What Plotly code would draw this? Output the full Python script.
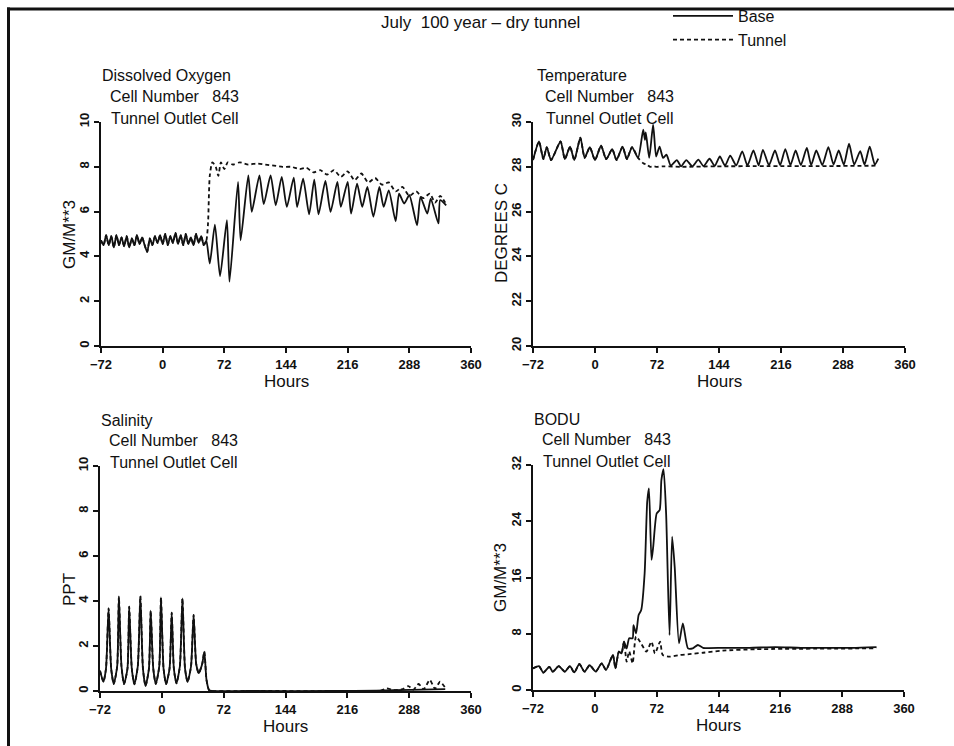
import plotly.graph_objects as go

W, H = 954, 746
FONT = "Liberation Sans"
INK = "#111111"

x_tickvals = [-72, 0, 72, 144, 216, 288, 360]
x_ticktext = ["\u221272", "0", "72", "144", "216", "288", "360"]

# ---------------- Dissolved oxygen ----------------
do_pre_hours = [-72, -69, -66, -63, -60, -57, -54, -51, -48, -45, -42, -39, -36, -33,
                -30, -27, -24, -21, -18, -15, -12, -9, -6, -3, 0, 3, 6, 9, 12, 15,
                18, 21, 24, 27, 30, 33, 36, 39, 42, 45, 48, 51]
do_pre_values = [4.72, 4.5, 4.95, 4.5, 4.9, 4.4, 4.95, 4.5, 4.85, 4.45, 4.9, 4.4, 4.8, 4.5,
                 4.95, 4.55, 4.85, 4.5, 4.2, 4.8, 4.5, 4.9, 4.6, 4.95, 4.55, 5.0, 4.5, 4.9,
                 4.6, 5.05, 4.55, 4.95, 4.5, 5.0, 4.55, 4.85, 4.5, 5.0, 4.6, 4.9, 4.5, 4.7]
do_base_hours = [55, 61, 67, 75, 78, 88, 91, 100, 104, 113, 118, 126, 132, 139, 145, 153,
                 157, 164, 171, 177, 182, 190, 196, 204, 208, 216, 220, 227, 233, 239, 246,
                 253, 258, 264, 272, 276, 282, 288, 297, 301, 309, 313, 322, 324, 331]
do_base_values = [3.68, 5.42, 3.12, 5.62, 2.87, 7.33, 4.72, 7.62, 5.99, 7.62, 6.33, 7.62,
                  6.28, 7.55, 6.21, 7.52, 6.2, 7.47, 5.88, 7.43, 5.88, 7.37, 5.99, 7.33,
                  6.21, 7.33, 5.91, 7.25, 6.21, 7.1, 5.77, 7.1, 6.21, 6.95, 5.57, 6.8,
                  6.36, 6.73, 5.39, 6.66, 5.91, 6.58, 5.47, 6.51, 6.28]
do_tunnel_hours = [53, 55, 58, 62, 65, 68, 72, 76, 82, 90, 100, 110, 120, 130, 140, 150,
                   160, 168, 176, 184, 192, 200, 208, 216, 224, 232, 240, 248, 256, 264,
                   272, 280, 288, 296, 304, 312, 318, 324, 330]
do_tunnel_values = [5.5, 7.6, 8.2, 8.0, 7.6, 8.2, 7.9, 8.2, 8.1, 8.2, 8.1, 8.15, 8.1, 8.05,
                    8.0, 8.0, 7.9, 7.95, 7.75, 7.85, 7.65, 7.85, 7.55, 7.8, 7.4, 7.7, 7.3,
                    7.5, 7.2, 7.3, 6.9, 7.1, 6.7, 6.9, 6.6, 6.8, 6.4, 6.7, 6.4]

# ---------------- Temperature ----------------
temp_pre_hours = [-72, -65, -60, -56, -51, -40, -35, -29, -24, -17, -12, -6, 0, 7, 13,
                  20, 25, 32, 37, 43, 50]
temp_pre_values = [28.3, 29.13, 28.34, 28.88, 28.3, 29.13, 28.34, 28.9, 28.3, 29.3, 28.4,
                   28.88, 28.3, 28.94, 28.34, 28.79, 28.3, 28.9, 28.34, 28.88, 28.4]
temp_base_hours = [56, 58, 59, 63, 67.5, 71, 75, 79, 83, 88, 95, 100, 106, 113, 120, 126,
                   133, 139, 145, 151, 157, 164, 171, 177, 184, 190, 195, 202, 209, 215,
                   221, 227, 233, 239, 246, 251, 257, 264, 271, 277, 283, 289, 295, 301,
                   308, 313, 319, 325, 329]
temp_base_values = [29.66, 29.2, 29.54, 28.4, 29.88, 28.46, 28.9, 28.4, 28.54, 28.05, 28.3,
                    28.02, 28.3, 28.02, 28.32, 28.03, 28.36, 28.04, 28.46, 28.05, 28.5,
                    28.06, 28.69, 28.06, 28.73, 28.07, 28.76, 28.07, 28.73, 28.08, 28.79,
                    28.08, 28.73, 28.08, 28.84, 28.08, 28.73, 28.08, 28.88, 28.1, 28.73,
                    28.1, 29.03, 28.1, 28.7, 28.1, 28.9, 28.1, 28.36]
temp_tunnel_hours = [56, 60, 64, 68, 72, 80, 100, 140, 200, 260, 329]
temp_tunnel_values = [28.16, 28.1, 28.0, 28.02, 28.0, 28.02, 28.0, 28.02, 28.03, 28.03, 28.05]

# ---------------- Salinity ----------------
sal_pre_hours = [-72, -68, -65, -62, -59, -56, -52, -50, -47, -44, -40, -38, -35, -32,
                 -28, -25, -22, -19, -15, -13, -10, -7, -3, -1, 2, 5, 9, 11.5, 14, 17,
                 21, 24, 27, 30, 34, 37, 40, 43, 47, 49.5, 52, 55, 58]
sal_pre_values = [0.9, 0.41, 1.0, 3.67, 1.0, 0.31, 1.1, 4.19, 1.1, 0.31, 1.0, 3.75, 1.0,
                  0.3, 1.1, 4.22, 1.0, 0.22, 1.0, 3.57, 1.0, 0.31, 1.1, 4.16, 1.0, 0.31,
                  1.0, 3.48, 1.0, 0.34, 1.1, 4.12, 1.0, 0.4, 1.1, 3.38, 1.2, 0.79, 1.2,
                  1.75, 0.5, 0.04, 0.0]
sal_base_hours = [100, 200, 250, 290, 330]
sal_base_values = [0.0, 0.0, 0.02, 0.05, 0.08]
sal_tunnel_hours = [100, 200, 255, 262, 270, 280, 287, 293, 299, 305, 312, 318, 324, 330]
sal_tunnel_values = [0.0, 0.0, 0.02, 0.12, 0.04, 0.08, 0.22, 0.06, 0.31, 0.08, 0.49, 0.1,
                     0.41, 0.15]

# ---------------- BODU ----------------
bod_pre_hours = [-72, -65, -60, -53, -49, -42, -35, -29, -24, -18, -12, -6, 1, 8, 13, 21,
                 24, 28, 31, 34]
bod_pre_values = [3.08, 3.4, 2.46, 3.3, 2.6, 3.4, 2.6, 3.4, 2.5, 3.7, 2.6, 3.55, 2.6, 3.8,
                  2.84, 4.98, 3.08, 5.45, 5.2, 6.87]
bod_base_hours = [37, 40, 44, 45, 48, 51, 54, 58, 61, 63, 66, 68, 72, 75.5, 77.5, 80, 83,
                  87, 90, 93, 98, 102.5, 108.5, 114, 120, 126, 150, 180, 210, 240, 270,
                  300, 328]
bod_base_values = [5.9, 7.35, 7.35, 9.24, 8.06, 10.66, 11.37, 16.6, 26.8, 28.67, 18.5,
                   20.4, 25.1, 25.6, 29.86, 31.4, 25.1, 7.8, 21.8, 17.5, 6.64, 9.48, 5.92,
                   5.92, 6.4, 6.0, 6.0, 6.0, 6.1, 6.0, 6.0, 6.0, 6.1]
bod_tunnel_hours = [37, 40, 44, 48, 54, 60, 66, 70, 76, 79, 87, 99, 110, 126, 149, 188, 328]
bod_tunnel_values = [4.03, 5.5, 3.8, 7.6, 6.6, 5.45, 6.87, 5.2, 6.87, 4.98, 4.74, 4.98,
                     5.1, 5.3, 5.6, 5.8, 5.92]

# ---------------- layout geometry (pixels) ----------------
panels = [
    dict(x0=101, x1=471, top=122, bottom=346, yrange=[0, 10], yticks=[0, 2, 4, 6, 8, 10],
         title=["Dissolved Oxygen", "Cell Number   843", "Tunnel Outlet Cell"],
         ytitle="GM/M**3", ytitle_x=69, ytitle_y=235,
         pre=(do_pre_hours, do_pre_values), base=(do_base_hours, do_base_values),
         tun=(do_tunnel_hours, do_tunnel_values)),
    dict(x0=533, x1=905, top=122, bottom=346, yrange=[20, 30],
         yticks=[20, 22, 24, 26, 28, 30],
         title=["Temperature", "Cell Number   843", "Tunnel Outlet Cell"],
         ytitle="DEGREES C", ytitle_x=501, ytitle_y=233,
         pre=(temp_pre_hours, temp_pre_values), base=(temp_base_hours, temp_base_values),
         tun=(temp_tunnel_hours, temp_tunnel_values)),
    dict(x0=100, x1=471, top=466, bottom=691, yrange=[0, 10], yticks=[0, 2, 4, 6, 8, 10],
         title=["Salinity", "Cell Number   843", "Tunnel Outlet Cell"],
         ytitle="PPT", ytitle_x=69, ytitle_y=590,
         pre=(sal_pre_hours, sal_pre_values), base=(sal_base_hours, sal_base_values),
         tun=(sal_tunnel_hours, sal_tunnel_values)),
    dict(x0=533, x1=904, top=465, bottom=690, yrange=[0, 32], yticks=[0, 8, 16, 24, 32],
         title=["BODU", "Cell Number   843", "Tunnel Outlet Cell"],
         ytitle="GM/M**3", ytitle_x=500, ytitle_y=578,
         pre=(bod_pre_hours, bod_pre_values), base=(bod_base_hours, bod_base_values),
         tun=(bod_tunnel_hours, bod_tunnel_values)),
]

fig = go.Figure()
annotations = []
layout_axes = {}

for i, p in enumerate(panels):
    n = i + 1
    xa = "x" if n == 1 else f"x{n}"
    ya = "y" if n == 1 else f"y{n}"
    pre_h, pre_v = p["pre"]
    bh, bv = p["base"]
    th, tv = p["tun"]
    fig.add_trace(go.Scatter(
        x=pre_h + th, y=pre_v + tv, mode="lines", name="Tunnel",
        line=dict(color=INK, width=1.8, dash="4px,3px", shape="spline", smoothing=0.6),
        xaxis=xa, yaxis=ya, showlegend=(n == 1), legendrank=2, hoverinfo="skip"))
    fig.add_trace(go.Scatter(
        x=pre_h + bh, y=pre_v + bv, mode="lines", name="Base",
        line=dict(color=INK, width=1.8, shape="spline", smoothing=0.6),
        xaxis=xa, yaxis=ya, showlegend=(n == 1), legendrank=1, hoverinfo="skip"))

    xkey = "xaxis" if n == 1 else f"xaxis{n}"
    ykey = "yaxis" if n == 1 else f"yaxis{n}"
    layout_axes[xkey] = dict(
        domain=[p["x0"] / W, p["x1"] / W], anchor=ya, automargin=False,
        range=[-72, 360], tickvals=x_tickvals, ticktext=x_ticktext,
        showline=True, linecolor=INK, linewidth=2, ticks="outside", ticklen=5,
        tickwidth=1.5, tickcolor=INK, showgrid=False, zeroline=False,
        tickfont=dict(family=FONT, size=13, color=INK, weight="bold"),
        fixedrange=True)
    layout_axes[ykey] = dict(
        domain=[1 - p["bottom"] / H, 1 - p["top"] / H], anchor=xa, automargin=False,
        range=p["yrange"], tickvals=p["yticks"],
        showline=True, linecolor=INK, linewidth=2, ticks="outside", ticklen=5,
        tickwidth=1.5, tickcolor=INK, showgrid=False, zeroline=False, tickangle=-90,
        tickfont=dict(family=FONT, size=13, color=INK, weight="bold"),
        fixedrange=True)

    # panel headings
    tx = p["x0"] - 1 if n != 2 else p["x0"] + 2
    heads = p["title"]
    offs = [(-46, 0), (-25, 8), (-4, 9)]
    for txt, (dy, dx) in zip(heads, offs):
        annotations.append(dict(
            text=txt, xref="paper", yref="paper", x=(tx + dx) / W,
            y=1 - (p["top"] + dy) / H, xanchor="left", yanchor="middle",
            showarrow=False, font=dict(family=FONT, size=16, color=INK)))
    # axis titles
    annotations.append(dict(
        text="Hours", xref="paper", yref="paper", x=(p["x0"] + p["x1"]) / 2 / W,
        y=1 - (p["bottom"] + 35) / H, xanchor="center", yanchor="middle",
        showarrow=False, font=dict(family=FONT, size=17, color=INK)))
    annotations.append(dict(
        text=p["ytitle"], xref="paper", yref="paper", x=p["ytitle_x"] / W,
        y=1 - p["ytitle_y"] / H, xanchor="center", yanchor="middle", textangle=-90,
        showarrow=False, font=dict(family=FONT, size=17, color=INK)))

annotations.append(dict(
    text="July  100 year \u2013 dry tunnel", xref="paper", yref="paper",
    x=480 / W, y=1 - 22 / H, xanchor="center", yanchor="middle", showarrow=False,
    font=dict(family=FONT, size=17, color=INK)))

shapes = [
    dict(type="rect", xref="paper", yref="paper", x0=7 / W, x1=1, y0=1 - 10.5 / H,
         y1=1 - 7.5 / H, fillcolor=INK, line=dict(width=0), layer="above"),
    dict(type="rect", xref="paper", yref="paper", x0=7 / W, x1=10 / W, y0=0,
         y1=1 - 7.5 / H, fillcolor=INK, line=dict(width=0), layer="above"),
]

fig.update_layout(
    template="none",
    width=W, height=H, margin=dict(l=0, r=0, t=0, b=0, autoexpand=False),
    paper_bgcolor="white", plot_bgcolor="white",
    font=dict(family=FONT, color=INK),
    annotations=annotations, shapes=shapes,
    showlegend=True,
    legend=dict(x=668 / W, y=1 + 1 / H, xanchor="left", yanchor="top",
                bgcolor="rgba(0,0,0,0)", font=dict(family=FONT, size=16, color=INK),
                tracegroupgap=0, itemwidth=60, traceorder="normal"),
    **layout_axes,
)

fig.write_html("out.html", config={"displayModeBar": False},
               post_script="document.body.style.margin='0px';"
                           "document.body.style.overflow='hidden';")
